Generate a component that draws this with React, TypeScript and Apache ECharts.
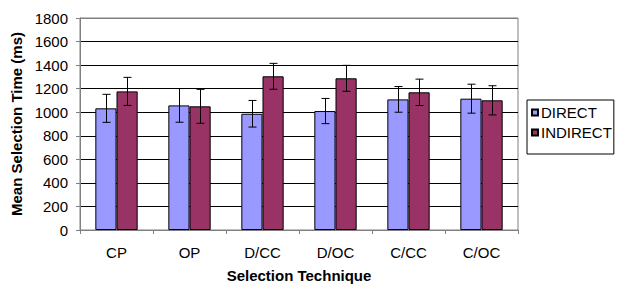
import React, { useEffect, useRef } from "react";
import * as echarts from "echarts";

const categories = ["CP", "OP", "D/CC", "D/OC", "C/CC", "C/OC"];
const seriesNames = ["DIRECT", "INDIRECT"];
const directMeans = [1033, 1058, 987, 1010, 1109, 1115];
const directErr = [119, 143, 113, 107, 109, 123];
const indirectMeans = [1177, 1050, 1305, 1288, 1169, 1101];
const indirectErr = [119, 144, 110, 110, 112, 124];
const yTicks = [0, 200, 400, 600, 800, 1000, 1200, 1400, 1600, 1800];

const FONT = "'Liberation Sans', Arial, sans-serif";
const GAP = 0.42;

function errorSeries(means: number[], errs: number[], side: number) {
  return {
    type: "custom",
    z: 5,
    silent: true,
    encode: { x: 0, y: 1 },
    data: means.map((m, i) => [i, m, errs[i]]),
    renderItem: (params: any, api: any) => {
      const x = api.value(0);
      const v = api.value(1);
      const e = api.value(2);
      const hi = api.coord([x, v + e]);
      const lo = api.coord([x, v - e]);
      const bw = api.size([1, 0])[0];
      const barW = (bw * (1 - GAP)) / 2;
      const cx = Math.round(hi[0] + (side * barW) / 2) + 0.5;
      const cap = 4;
      const style = { stroke: "#000", lineWidth: 1 };
      return {
        type: "group",
        children: [
          { type: "line", shape: { x1: cx, y1: hi[1], x2: cx, y2: lo[1] }, style },
          { type: "line", shape: { x1: cx - cap, y1: hi[1], x2: cx + cap, y2: hi[1] }, style },
          { type: "line", shape: { x1: cx - cap, y1: lo[1], x2: cx + cap, y2: lo[1] }, style },
        ],
      };
    },
  };
}

export default function App() {
  const ref = useRef<HTMLDivElement>(null);
  useEffect(() => {
    if (!ref.current) return;
    const chart = echarts.init(ref.current, null, { renderer: "svg" });
    const splitColors = yTicks.map((t, i) => (i === yTicks.length - 1 ? "#808080" : "#000"));
    chart.setOption({
      animation: false,
      textStyle: { fontFamily: FONT },
      grid: {
        left: 80,
        right: 99,
        top: 18,
        bottom: 54,
        show: true,
        borderColor: "#808080",
        borderWidth: 1,
        backgroundColor: "transparent",
        containLabel: false,
        outerBoundsMode: "none",
      },
      legend: {
        orient: "vertical",
        left: 527,
        top: 100,
        data: seriesNames,
        icon: "rect",
        itemWidth: 6,
        itemHeight: 6,
        itemGap: 5,
        padding: [5, 2, 14, 4],
        borderColor: "#000",
        borderWidth: 1,
        textStyle: { fontSize: 15, color: "#000", fontFamily: FONT, padding: [0, 0, 0, -2] },
      },
      xAxis: {
        type: "category",
        data: categories,
        name: "Selection Technique",
        nameLocation: "middle",
        nameGap: 38,
        nameTextStyle: { fontSize: 15, fontWeight: "bold", color: "#000", fontFamily: FONT },
        axisLine: { lineStyle: { color: "#808080" } },
        axisTick: { show: true, length: 4, lineStyle: { color: "#808080" } },
        axisLabel: { fontSize: 15, color: "#000", margin: 15, fontFamily: FONT },
      },
      yAxis: {
        type: "value",
        min: 0,
        max: 1800,
        interval: 200,
        name: "Mean Selection Time (ms)",
        nameLocation: "middle",
        nameGap: 54,
        nameTextStyle: { fontSize: 15, fontWeight: "bold", color: "#000", fontFamily: FONT },
        axisLine: { show: true, lineStyle: { color: "#808080" } },
        axisTick: { show: true, length: 4, lineStyle: { color: "#808080" } },
        axisLabel: {
          fontSize: 15,
          color: "#000",
          margin: 12,
          fontFamily: FONT,
          formatter: (v: number) => String(v),
        },
        splitLine: { show: true, lineStyle: { color: splitColors, width: 1 } },
      },
      series: [
        {
          name: seriesNames[0],
          type: "bar",
          data: directMeans,
          barGap: "0%",
          barCategoryGap: "42%",
          itemStyle: { color: "#9999FF", borderColor: "#000", borderWidth: 1 },
        },
        {
          name: seriesNames[1],
          type: "bar",
          data: indirectMeans,
          barGap: "0%",
          barCategoryGap: "42%",
          itemStyle: { color: "#993366", borderColor: "#000", borderWidth: 1 },
        },
        errorSeries(directMeans, directErr, -1),
        errorSeries(indirectMeans, indirectErr, 1),
      ],
    });
    return () => chart.dispose();
  }, []);
  return (
    <div
      ref={ref}
      style={{ position: "absolute", left: 0, top: 0, width: 617, height: 284 }}
    />
  );
}
